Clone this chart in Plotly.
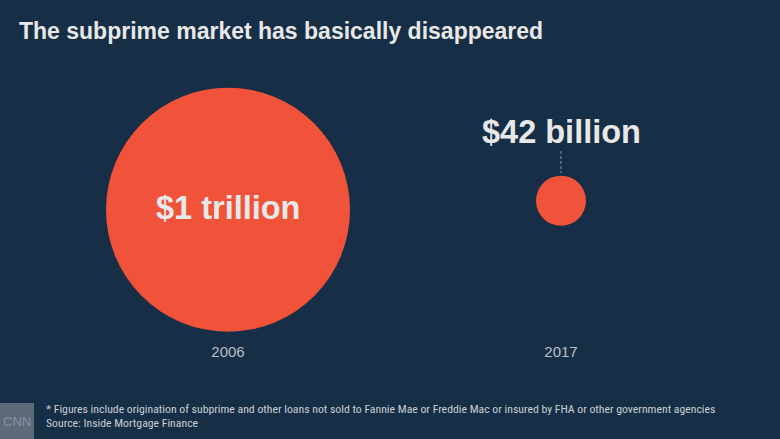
import plotly.graph_objects as go

years = ["2006", "2017"]
values_billion = [1000, 42]
value_labels = ["$1 trillion", "$42 billion"]

title = "The subprime market has basically disappeared"
footnote = "* Figures include origination of subprime and other loans not sold to Fannie Mae or Freddie Mac or insured by FHA or other government agencies"
source = "Source: Inside Mortgage Finance"

W, H = 780, 439
BG = "#172e47"
RED = "#f0533a"
TXT = "#e8e8e8"

plot_bottom = 341  # pixel row where plotting area ends
centers_y = [209.7, 200.7]
max_d = 244
sizeref = 2.0 * max(values_billion) / (max_d ** 2)

fig = go.Figure()
fig.add_trace(go.Scatter(
    x=years, y=centers_y, mode="markers",
    marker=dict(size=values_billion, sizemode="area", sizeref=sizeref,
                color=RED, line=dict(width=0), opacity=1),
    hoverinfo="skip", showlegend=False,
))

BIG = dict(family="Liberation Sans, Arial", size=32.5, color=TXT)
# label inside big circle (category index 0)
fig.add_annotation(x=0, y=centers_y[0] - 2, text="<b>" + value_labels[0] + "</b>",
                   showarrow=False, font=BIG, xref="x", yref="y")
# label above small circle (category index 1)
fig.add_annotation(x=1, y=132, text="<b>" + value_labels[1] + "</b>",
                   showarrow=False, font=BIG, xref="x", yref="y")
fig.add_shape(type="line", x0=1, x1=1, y0=151, y1=173, xref="x", yref="y",
              line=dict(color="#8a98a8", width=1, dash="3px,2px"))

plot_h = plot_bottom
def py(pixel_y):
    return 1 - pixel_y / plot_h

# title
fig.add_annotation(x=17 / W, y=py(31), xref="paper", yref="paper", text="<b>" + title + "</b>",
                   showarrow=False, xanchor="left", yanchor="middle",
                   font=dict(family="Liberation Sans, Arial", size=23, color=TXT))

SMALL = dict(family="Liberation Sans Narrow, Roboto Condensed, Arial Narrow, sans-serif", size=11.75, color="#c8ced4")
fig.add_annotation(x=44 / W, y=py(409), xref="paper", yref="paper", text=footnote,
                   showarrow=False, xanchor="left", yanchor="middle", font=SMALL)
fig.add_annotation(x=44 / W, y=py(423), xref="paper", yref="paper", text=source,
                   showarrow=False, xanchor="left", yanchor="middle", font=SMALL)

# CNN logo box
fig.add_shape(type="rect", xref="paper", yref="paper", x0=0, x1=34 / W, y0=py(H), y1=py(403),
              fillcolor="#5d6a78", line=dict(width=0), layer="above")
fig.add_annotation(x=17 / W, y=py(421), xref="paper", yref="paper", text="CNN", showarrow=False,
                   font=dict(family="Liberation Sans Narrow, Arial", size=13, color="#8894a0"),
                   xanchor="center", yanchor="middle")

fig.update_layout(
    width=W, height=H, paper_bgcolor=BG, plot_bgcolor=BG,
    margin=dict(l=0, r=0, t=0, b=H - plot_bottom),
    xaxis=dict(type="category", range=[-228 / 333, (W - 228) / 333], showgrid=False,
               zeroline=False, showline=False, ticks="",
               tickfont=dict(family="Liberation Sans, Arial", size=15, color="#b8c0c8")),
    yaxis=dict(range=[plot_bottom, 0], showgrid=False, zeroline=False, showline=False,
               showticklabels=False, visible=False),
)

fig.write_html("out.html")
